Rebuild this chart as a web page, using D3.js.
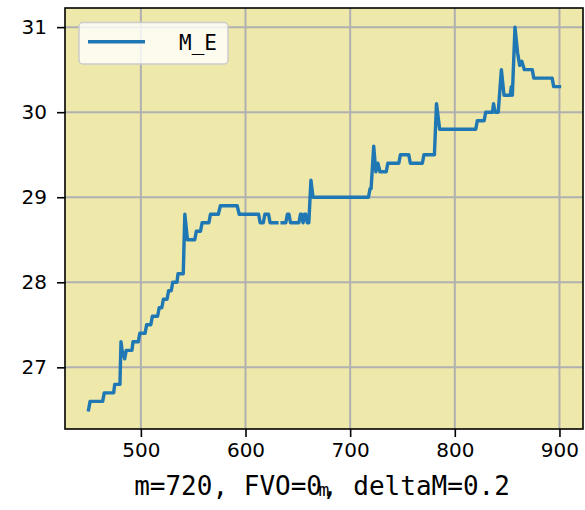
<!DOCTYPE html>
<html>
<head>
<meta charset="utf-8">
<script src="https://cdn.jsdelivr.net/npm/d3@7"></script>
<style>
  body { margin: 0; background: #ffffff; }
  svg { display: block; }
</style>
</head>
<body>
<div id="chart"></div>
<script>
// ---- data ----
const mValues = [
  450, 451.5, 463.5, 465, 474, 475, 480, 481, 482, 484.5, 486, 491.5, 492.5, 497.5, 499,
  504, 505.5, 509.5, 511, 516, 517.5, 520, 521.5, 525, 526.5, 529, 530.5, 534.5, 535.5,
  540.5, 542, 544.5, 551.5, 553, 557, 558.5, 565, 566.5, 574, 576, 592, 594, 612.5, 614,
  617, 618.5, 622, 623.5, 630, 632.5, 635, 638.5, 640, 641.5, 643, 651, 652.5, 653.5, 655,
  656.5, 657.5, 659, 660.5, 662.5, 664.5, 717.5, 719, 720, 722.5, 724.5, 726.5, 728.5,
  734.5, 736, 746.5, 748, 756, 757.5, 769, 770.5, 780.5, 782.5, 785.5, 820, 821.5, 828,
  829.5, 836, 837, 838.5, 841.5, 844.5, 847, 853, 854, 855, 857.5, 860, 862, 864, 866.5,
  874, 875.5, 893, 894.5, 900
];
const meValues = [
  26.5, 26.6, 26.6, 26.7, 26.7, 26.8, 26.8, 27.3, 27.2, 27.1, 27.2, 27.2, 27.3, 27.3, 27.4,
  27.4, 27.5, 27.5, 27.6, 27.6, 27.7, 27.7, 27.8, 27.8, 27.9, 27.9, 28.0, 28.0, 28.1,
  28.1, 28.8, 28.5, 28.5, 28.6, 28.6, 28.7, 28.7, 28.8, 28.8, 28.9, 28.9, 28.8, 28.8, 28.7,
  28.7, 28.8, 28.8, 28.7, 28.7, null, 28.7, 28.7, 28.8, 28.8, 28.7, 28.7, 28.8, 28.8, 28.7,
  28.8, 28.8, 28.7, 28.7, 29.2, 29.0, 29.0, 29.1, 29.1, 29.6, 29.3, 29.4, 29.3,
  29.3, 29.4, 29.4, 29.5, 29.5, 29.4, 29.4, 29.5, 29.5, 30.1, 29.8, 29.8, 29.9, 29.9,
  30.0, 30.0, 30.1, 30.0, 30.0, 30.5, 30.2, 30.2, 30.3, 30.2, 31.0, 30.7, 30.55, 30.6, 30.5,
  30.5, 30.4, 30.4, 30.3, 30.3
];
const xTicks = [500, 600, 700, 800, 900];
const yTicks = [27, 28, 29, 30, 31];
const seriesName = "M_E";
const xLabel = "m";
const captionText = "m=720, FVO=0, deltaM=0.2";

// ---- layout ----
const W = 585, H = 510;
const plot = { left: 65, top: 8, right: 583, bottom: 429 };

const svg = d3.select("#chart").append("svg").attr("width", W).attr("height", H);

const x = d3.scaleLinear().domain([427.5, 922.5]).range([plot.left, plot.right]);
const y = d3.scaleLinear().domain([26.275, 31.225]).range([plot.bottom, plot.top]);

// plot background
svg.append("rect")
  .attr("x", plot.left).attr("y", plot.top)
  .attr("width", plot.right - plot.left).attr("height", plot.bottom - plot.top)
  .attr("fill", "#eee8aa");

// grid
const grid = svg.append("g");
grid.selectAll("line.vx").data(xTicks).join("line")
  .attr("x1", d => x(d)).attr("x2", d => x(d))
  .attr("y1", plot.top).attr("y2", plot.bottom)
  .attr("stroke", "#b0b0b0").attr("stroke-width", 2);
grid.selectAll("line.hy").data(yTicks).join("line")
  .attr("y1", d => y(d)).attr("y2", d => y(d))
  .attr("x1", plot.left).attr("x2", plot.right)
  .attr("stroke", "#b0b0b0").attr("stroke-width", 2);

// line
const pts = mValues.map((m, i) => ({ m, v: meValues[i] }));
const line = d3.line()
  .defined(d => d.v !== null)
  .x(d => x(d.m)).y(d => y(d.v));
svg.append("path")
  .datum(pts)
  .attr("d", line)
  .attr("fill", "none")
  .attr("stroke", "#1f77b4")
  .attr("stroke-width", 3.4)
  .attr("stroke-linejoin", "round")
  .attr("stroke-linecap", "square");

// axes
const xAxis = d3.axisBottom(x).tickValues(xTicks).tickSize(8).tickPadding(6).tickFormat(d3.format("d"));
const yAxis = d3.axisLeft(y).tickValues(yTicks).tickSize(8).tickPadding(10).tickFormat(d3.format("d"));

const gx = svg.append("g").attr("transform", `translate(0,${plot.bottom})`).call(xAxis);
const gy = svg.append("g").attr("transform", `translate(${plot.left},0)`).call(yAxis);
[gx, gy].forEach(g => {
  g.select(".domain").remove();
  g.selectAll(".tick line").attr("stroke", "#000").attr("stroke-width", 1.6);
  g.selectAll(".tick text")
    .attr("fill", "#000")
    .style("font-family", "'DejaVu Sans', sans-serif")
    .style("font-size", "20px");
});

// spines
svg.append("rect")
  .attr("x", plot.left).attr("y", plot.top)
  .attr("width", plot.right - plot.left).attr("height", plot.bottom - plot.top)
  .attr("fill", "none").attr("stroke", "#000").attr("stroke-width", 1.6);

// x label
svg.append("text")
  .attr("x", (plot.left + plot.right) / 2).attr("y", 496)
  .attr("text-anchor", "middle")
  .style("font-family", "'DejaVu Sans Mono', monospace")
  .style("font-size", "18px")
  .attr("fill", "#000")
  .text(xLabel);

// caption
svg.append("text")
  .attr("x", 322).attr("y", 495)
  .attr("text-anchor", "middle")
  .style("font-family", "'DejaVu Sans Mono', monospace")
  .style("font-size", "26px")
  .attr("fill", "#000")
  .text(captionText);

// legend
const lg = svg.append("g");
lg.append("rect")
  .attr("x", 79).attr("y", 22.5).attr("width", 149).attr("height", 41.5)
  .attr("rx", 4).attr("ry", 4)
  .attr("fill", "#ffffff").attr("fill-opacity", 0.8)
  .attr("stroke", "#cccccc").attr("stroke-width", 1.5);
lg.append("line")
  .attr("x1", 88).attr("x2", 145).attr("y1", 41.7).attr("y2", 41.7)
  .attr("stroke", "#1f77b4").attr("stroke-width", 3.4);
lg.append("text")
  .attr("x", 179).attr("y", 50)
  .style("font-family", "'DejaVu Sans Mono', monospace")
  .style("font-size", "21px")
  .attr("fill", "#000")
  .text(seriesName);
</script>
</body>
</html>
